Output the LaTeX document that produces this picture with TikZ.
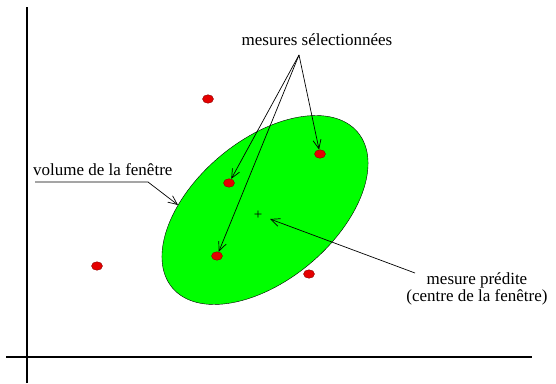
\documentclass[tikz,border=0pt]{standalone}
\usepackage{fontspec}
\setmainfont{Liberation Serif}
\usetikzlibrary{shapes.geometric, arrows.meta, positioning}
\tikzset{
    >={Straight Barb[length=9pt, width=8pt]},
    % Shapes
    window/.style={ellipse, draw=black, thin, fill=green, minimum width=242pt, minimum height=140pt, rotate=40},
    meas/.style={ellipse, draw=red!55!black, fill=red!90!black, minimum width=11pt, minimum height=8.5pt, inner sep=0pt},
    lbl/.style={font=\fontsize{17}{17.5}\selectfont, inner sep=1pt, align=center},
    % Lines
    axis/.style={line width=1.2pt},
    flow/.style={->, line width=0.7pt}
}
\begin{document}
\begin{tikzpicture}[x=1pt, y=1pt]
\useasboundingbox (0,0) rectangle (556,383);

% axes
\coordinate (ytop) at (27,376);
\coordinate (ybot) at (27,0);
\coordinate (xleft) at (6,26);
\coordinate (xright) at (532,26);
\draw[axis] (ybot) -- (ytop);
\draw[axis] (xleft) -- (xright);

% window and measures
\node[window] (win) at (265,173) {};
\node[font=\fontsize{15}{15}\selectfont, inner sep=0pt] (pred) at (258,168) {+};

\node[meas] (m1) at (208,284) {};
\node[meas] (m2) at (320,229) {};
\node[meas] (m3) at (229,200) {};
\node[meas] (m4) at (217,127) {};
\node[meas] (m5) at (97,117) {};
\node[meas] (m6) at (309,109) {};

% labels
\node[lbl] (sel) at (317,343) {mesures sélectionnées};
\coordinate (apex) at (299,328);
\node[lbl, anchor=west] (vol) at (32,213) {volume de la fenêtre};
\node[lbl] (mpred) at (477,94) {mesure prédite\\(centre de la fenêtre)};

\coordinate (volA) at (35,201);
\coordinate (volB) at (148,201);
\coordinate (volC) at (178,178);
\coordinate (predA) at (415,110);
\coordinate (predC) at (270,164);

\draw[flow] (apex) -- (m2);
\draw[flow] (apex) -- (m3);
\draw[flow] (apex) -- (m4);
\draw[flow] (volA) -- (volB) -- (volC);
\draw[flow] (predA) -- (predC);

\end{tikzpicture}
\end{document}
